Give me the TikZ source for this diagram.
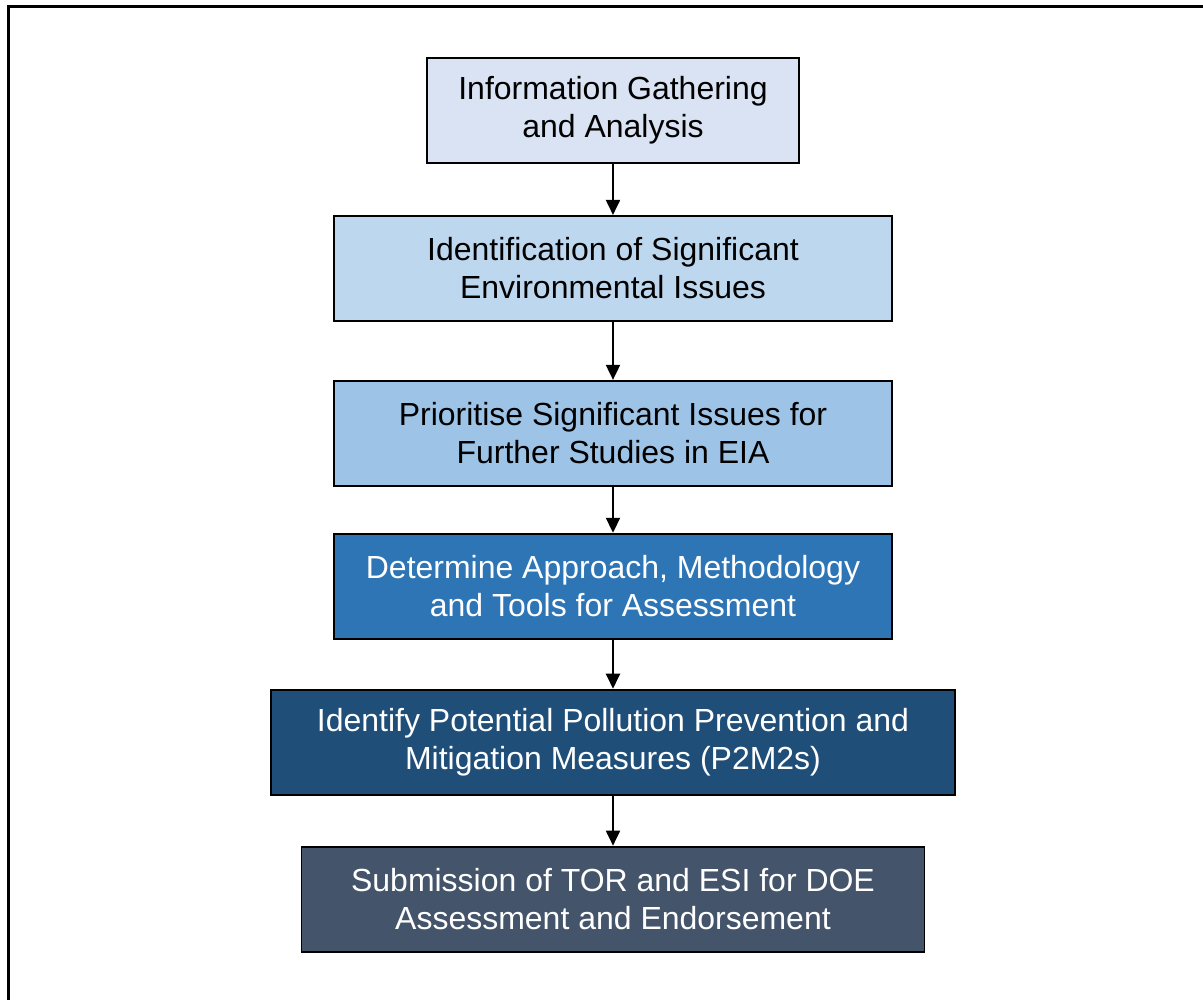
\documentclass[tikz,border=0pt]{standalone}
\usepackage{fontspec}
\setmainfont{Liberation Sans}
\usepackage{xcolor}
\usetikzlibrary{arrows.meta,positioning}

\definecolor{stepA}{HTML}{DAE3F3}
\definecolor{stepB}{HTML}{BDD7EE}
\definecolor{stepC}{HTML}{9DC3E6}
\definecolor{stepD}{HTML}{2E75B6}
\definecolor{stepE}{HTML}{1F4E79}
\definecolor{stepF}{HTML}{44546A}

\begin{document}
\begin{tikzpicture}[
  node distance=1cm,
  box/.style={rectangle, draw, line width=1.1pt, minimum height=2.1cm, align=center,
    inner sep=0pt, font=\fontsize{18.2}{21.5}\selectfont},
  lightbox/.style={box, text=black},
  darkbox/.style={box, text=white},
  arr/.style={-{Triangle[length=0.3cm, width=0.28cm]}, line width=1.1pt}
]
\useasboundingbox (0,0) rectangle (24.06,-20);

% Frame (only the top and left edges show)
\draw[line width=1.7pt] (0.17,-20.2) -- (0.17,-0.13) -- (24.3,-0.13);

% Steps
\node[lightbox, fill=stepA, minimum width=7.44cm, anchor=north] (gather) at (12.26,-1.14)
  {Information Gathering\\and Analysis};
\node[lightbox, fill=stepB, minimum width=11.16cm, below=1.02cm of gather] (identify)
  {Identification of Significant\\Environmental Issues};
\node[lightbox, fill=stepC, minimum width=11.16cm, below=1.16cm of identify] (prioritise)
  {Prioritise Significant Issues for\\Further Studies in EIA};
\node[darkbox, fill=stepD, minimum width=11.16cm, below=0.92cm of prioritise] (approach)
  {Determine Approach, Methodology\\and Tools for Assessment};
\node[darkbox, fill=stepE, minimum width=13.68cm, below=0.98cm of approach] (measures)
  {Identify Potential Pollution Prevention and\\Mitigation Measures (P2M2s)};
\node[darkbox, fill=stepF, minimum width=12.46cm, below=1cm of measures] (submit)
  {Submission of TOR and ESI for DOE\\Assessment and Endorsement};

% Arrows
\draw[arr] (gather) -- (identify);
\draw[arr] (identify) -- (prioritise);
\draw[arr] (prioritise) -- (approach);
\draw[arr] (approach) -- (measures);
\draw[arr] (measures) -- (submit);

\end{tikzpicture}
\end{document}
